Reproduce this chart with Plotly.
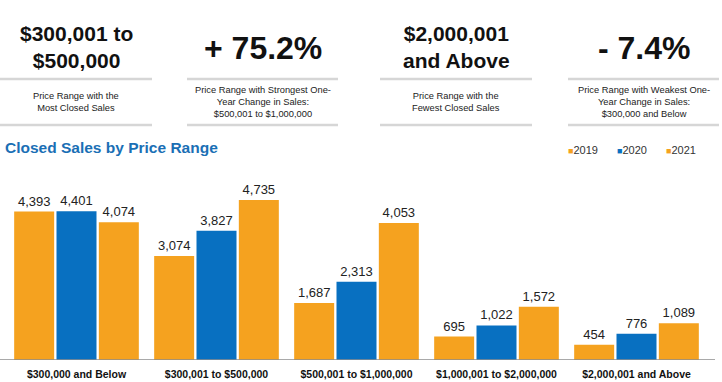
import plotly.graph_objects as go

categories = ["$300,000 and Below", "$300,001 to $500,000", "$500,001 to $1,000,000",
              "$1,000,001 to $2,000,000", "$2,000,001 and Above"]
years = ["2019", "2020", "2021"]
sales_2019 = [4393, 3074, 1687, 695, 454]
sales_2020 = [4401, 3827, 2313, 1022, 776]
sales_2021 = [4074, 4735, 4053, 1572, 1089]
colors = ["#F5A21F", "#0870C1", "#F5A21F"]

kpi_values = ["$300,001 to<br>$500,000", "+ 75.2%", "$2,000,001<br>and Above", "- 7.4%"]
kpi_captions = ["Price Range with the<br>Most Closed Sales",
                "Price Range with Strongest One-<br>Year Change in Sales:<br>$500,001 to $1,000,000",
                "Price Range with the<br>Fewest Closed Sales",
                "Price Range with Weakest One-<br>Year Change in Sales:<br>$300,000 and Below"]
title_text = "Closed Sales by Price Range"

W, H = 722, 382
FONT = "Liberation Sans, Arial, sans-serif"

fig = go.Figure()
for yr, vals, col in zip(years, [sales_2019, sales_2020, sales_2021], colors):
    fig.add_trace(go.Bar(
        x=categories, y=vals, name=yr, marker=dict(color=col, line=dict(width=0)),
        text=vals, texttemplate="%{y:,}", textposition="outside",
        textfont=dict(size=13, color="#222222", family=FONT),
        cliponaxis=False, constraintext="none", showlegend=False))

fig.update_layout(
    width=W, height=H, margin=dict(l=0, r=0, t=0, b=0),
    paper_bgcolor="white", plot_bgcolor="white",
    barmode="group", bargap=0.093, bargroupgap=0.055,
    font=dict(family=FONT, color="#111111"),
    xaxis=dict(domain=[6.5 / W, 706.5 / W], showgrid=False, showline=False,
               zeroline=False, ticks="", ticklabelstandoff=6,
               tickfont=dict(size=10.5, weight="bold", color="#111111"),
               fixedrange=True),
    yaxis=dict(domain=[22 / H, (H - 170.7) / H], range=[0, 5600], visible=False,
               fixedrange=True),
)

shapes = []
# axis baseline
shapes.append(dict(type="line", xref="paper", yref="y", x0=0, x1=715 / W, y0=0, y1=0,
                   line=dict(color="#8C8C8C", width=1.5)))
blocks = [(0, 152), (187, 338), (380, 532), (568, 719)]
for (a, b) in blocks:
    for ypx in (79, 125):
        shapes.append(dict(type="line", xref="paper", yref="paper",
                           x0=a / W, x1=b / W, y0=1 - ypx / H, y1=1 - ypx / H,
                           line=dict(color="#D6D6D6", width=2.5)))
fig.update_layout(shapes=shapes)

annotations = []
big_sizes = [21, 32, 21, 32]
big_y = [46.5, 48, 46.5, 48]
for (a, b), val, cap, sz, yy in zip(blocks, kpi_values, kpi_captions, big_sizes, big_y):
    cx = (a + b) / 2 / W
    annotations.append(dict(xref="paper", yref="paper", x=cx, y=1 - yy / H,
                            xanchor="center", yanchor="middle", showarrow=False,
                            text="<b>" + val + "</b>", align="center",
                            font=dict(size=sz, color="#111111", family=FONT)))
    annotations.append(dict(xref="paper", yref="paper", x=cx, y=1 - 102 / H,
                            xanchor="center", yanchor="middle", showarrow=False,
                            text=cap, align="center",
                            font=dict(size=9.3, color="#222222", family=FONT)))
annotations.append(dict(xref="paper", yref="paper", x=3 / W, y=1 - 147 / H,
                        xanchor="left", yanchor="middle", showarrow=False,
                        text="<b>" + title_text + "</b>",
                        font=dict(size=15.5, color="#1A6FB5", family=FONT)))
legend_x = [566, 615, 664]
for yr, col, lx in zip(years, colors, legend_x):
    annotations.append(dict(xref="paper", yref="paper", x=lx / W, y=1 - 150 / H,
                            xanchor="left", yanchor="middle", showarrow=False,
                            text="<span style='color:%s;font-size:9px'>■</span>%s" % (col, yr),
                            font=dict(size=11, color="#333333", family=FONT)))
fig.update_layout(annotations=annotations)

fig.write_html("out.html", config={"displayModeBar": False},
               post_script="document.body.style.margin='0px';document.body.style.overflow='hidden';")
